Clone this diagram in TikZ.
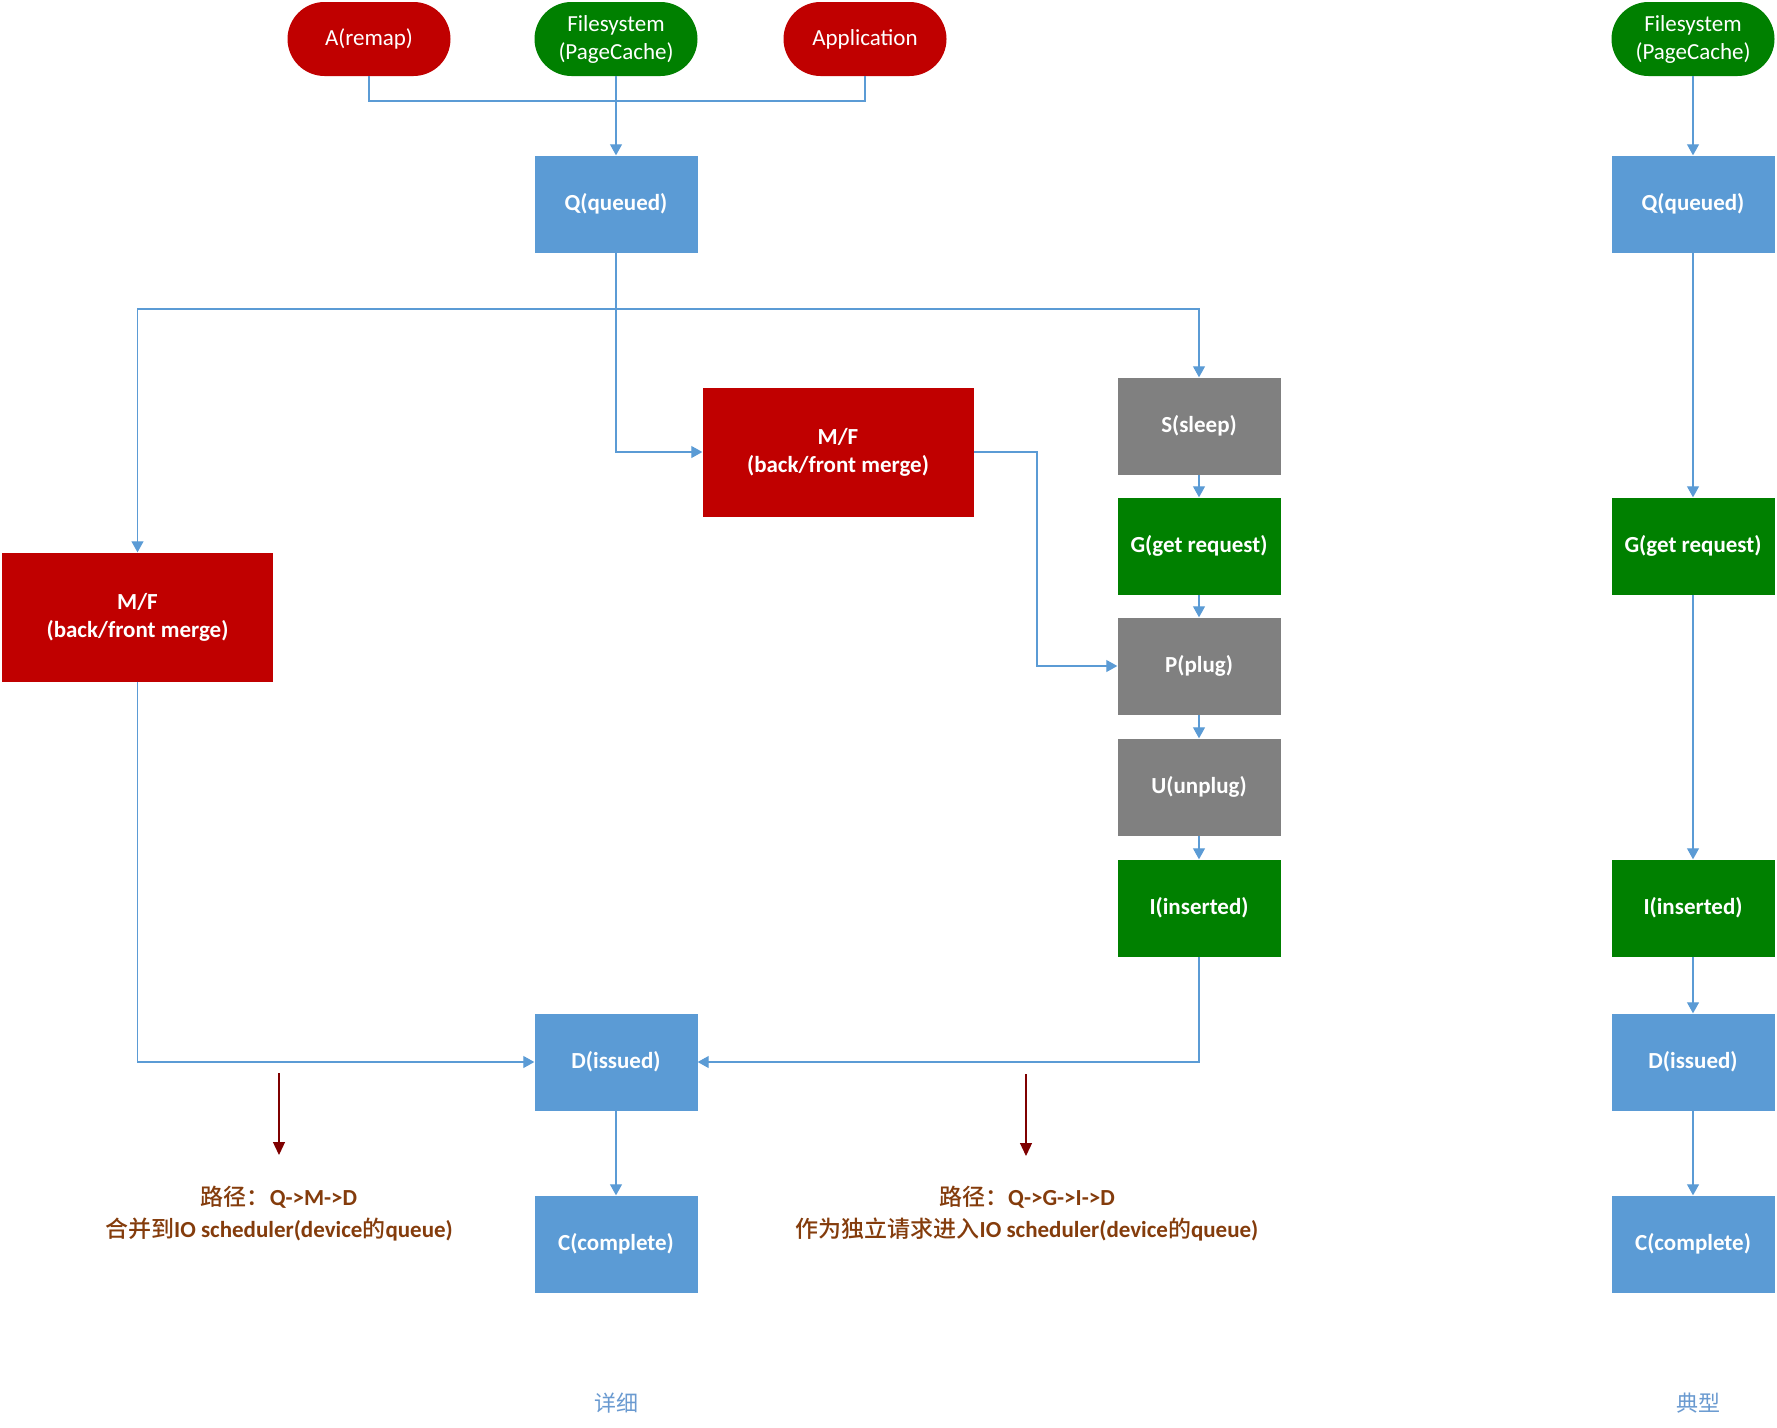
\documentclass[tikz,border=0pt]{standalone}
\usepackage{fontspec}
\setmainfont{Carlito}
\newfontfamily\cjk{Noto Sans CJK SC}
\newfontfamily\cjkmedium{Noto Sans CJK SC Medium}
\newcommand\cjkm[1]{{\cjkmedium\mdseries #1}}
\usetikzlibrary{arrows.meta,shapes.misc}
\definecolor{bxblue}{HTML}{5B9BD5}
\definecolor{bxred}{HTML}{C00000}
\definecolor{bxgreen}{HTML}{008000}
\definecolor{bxgray}{HTML}{808080}
\definecolor{notebrown}{RGB}{132,60,12}
\definecolor{arrred}{HTML}{7F0000}
\definecolor{lblblue}{HTML}{6A9AD0}
\begin{document}
\begin{tikzpicture}[x=1pt,y=-1pt,
  box/.style={rectangle, minimum width=163pt, minimum height=97pt, inner sep=0pt,
    text=white, font=\bfseries\fontsize{23}{28}\selectfont, align=center},
  bluebox/.style={box, fill=bxblue},
  greenbox/.style={box, fill=bxgreen},
  graybox/.style={box, fill=bxgray},
  bigbox/.style={box, minimum width=271pt, minimum height=129pt, fill=bxred},
  oval/.style={rounded rectangle, minimum width=163pt, minimum height=74pt, inner sep=0pt,
    text=white, font=\fontsize{23}{28}\selectfont, align=center},
  conn/.style={draw=bxblue, line width=1.1pt},
  arr/.style={conn, -{Triangle[length=11pt,width=12pt]}},
  redarr/.style={draw=arrred, line width=1.2pt, -{Triangle[length=13pt,width=12pt]}},
  note/.style={text=notebrown, font=\bfseries\fontsize{23}{32}\selectfont, align=center},
  lbl/.style={text=lblblue, font=\cjk\fontsize{22}{26}\selectfont}
]
\useasboundingbox (0,0) rectangle (1777,1427);

% top ovals
\node[oval, fill=bxred] (A) at (369,39) {A(remap)};
\node[oval, fill=bxgreen] (FS) at (616,39) {Filesystem\\(PageCache)};
\node[oval, fill=bxred] (App) at (865,39) {Application};

% main column
\node[bluebox] (Q) at (616,204) {Q(queued)};
\node[bigbox] (MF1) at (838,452) {M/F\\(back/front merge)};
\node[bigbox] (MF2) at (137.5,617) {M/F\\(back/front merge)};
\node[graybox] (S) at (1199,426) {S(sleep)};
\node[greenbox] (G) at (1199,546) {G(get request)};
\node[graybox] (P) at (1199,666) {P(plug)};
\node[graybox] (U) at (1199,787) {U(unplug)};
\node[greenbox] (I) at (1199,908) {I(inserted)};
\node[bluebox] (D) at (616,1062) {D(issued)};
\node[bluebox] (C) at (616,1244) {C(complete)};

% right column
\node[oval, fill=bxgreen] (FSr) at (1693,39) {Filesystem\\(PageCache)};
\node[bluebox] (Qr) at (1693,204) {Q(queued)};
\node[greenbox] (Gr) at (1693,546) {G(get request)};
\node[greenbox] (Ir) at (1693,908) {I(inserted)};
\node[bluebox] (Dr) at (1693,1062) {D(issued)};
\node[bluebox] (Cr) at (1693,1244) {C(complete)};

% junctions
\coordinate (jtop) at (616,101);
\coordinate (jq) at (616,309);
\coordinate (jmf) at (1037,452);

% top connectors
\draw[conn] (A.south) |- (jtop);
\draw[conn] (App.south) |- (jtop);
\draw[arr] (FS.south) -- (Q.north);

% from Q
\draw[conn] (Q.south) -- (jq);
\draw[arr] (jq) -| (MF2.north);
\draw[arr] (jq) -| (S.north);
\draw[arr] (Q.south) |- (MF1.west);
\draw[arr] (MF1.east) -- (jmf) |- (P.west);

% right chain
\draw[arr] (S.south) -- (G.north);
\draw[arr] (G.south) -- (P.north);
\draw[arr] (P.south) -- (U.north);
\draw[arr] (U.south) -- (I.north);

% into D
\draw[arr] (MF2.south) |- (D.west);
\draw[arr] (I.south) |- (D.east);
\draw[arr] (D.south) -- (C.north);

% typical column
\draw[arr] (FSr.south) -- (Qr.north);
\draw[arr] (Qr.south) -- (Gr.north);
\draw[arr] (Gr.south) -- (Ir.north);
\draw[arr] (Ir.south) -- (Dr.north);
\draw[arr] (Dr.south) -- (Cr.north);

% red arrows
\coordinate (r1s) at (279,1073);
\coordinate (r1e) at (279,1155);
\coordinate (r2s) at (1026,1074);
\coordinate (r2e) at (1026,1156);
\draw[redarr] (r1s) -- (r1e);
\draw[redarr] (r2s) -- (r2e);

% notes
\node[note] (n1) at (279,1214) {\cjkm{路径：}Q->M->D\\\cjkm{合并到}IO scheduler(device\cjkm{的}queue)};
\node[note] (n2) at (1027,1214) {\cjkm{路径：}Q->G->I->D\\\cjkm{作为独立请求进入}IO scheduler(device\cjkm{的}queue)};

% labels
\node[lbl] (l1) at (616,1403) {详细};
\node[lbl] (l2) at (1698,1403) {典型};
\end{tikzpicture}
\end{document}
